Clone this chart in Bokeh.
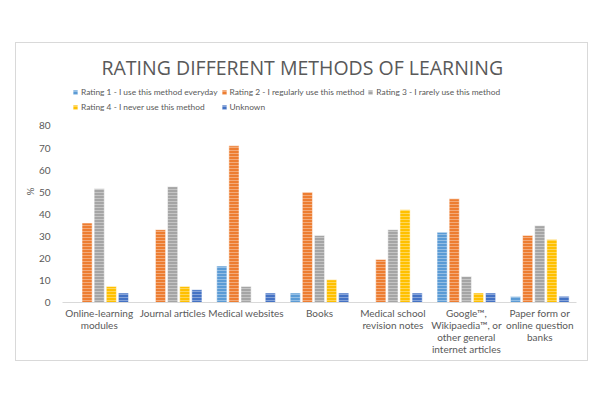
from bokeh.plotting import figure
from bokeh.models import (ColumnDataSource, FactorRange, Range1d, Legend, LegendItem, FixedTicker,
                          CategoricalAxis, CustomJSTickFormatter)
from bokeh.transform import dodge
from bokeh.embed import file_html
from bokeh.resources import INLINE

categories = ["Online-learning modules", "Journal articles", "Medical websites", "Books",
              "Medical school revision notes",
              "Google™, Wikipaedia™, or other general internet articles",
              "Paper form or online question banks"]
category_labels = ["Online-learning\nmodules", "Journal articles", "Medical websites", "Books",
                   "Medical school\nrevision notes",
                   "Google™,\nWikipaedia™, or\nother general\ninternet articles",
                   "Paper form or\nonline question\nbanks"]
rating1 = [0, 0, 16.5, 4.3, 0, 31.8, 2.7]
rating2 = [36, 33, 71, 50, 19.5, 47, 30.4]
rating3 = [51.5, 52.5, 7.3, 30.4, 33, 11.8, 34.8]
rating4 = [7.3, 7.3, 0, 10.3, 42, 4.3, 28.5]
unknown = [4.3, 5.8, 4.3, 4.3, 4.3, 4.3, 2.8]
series_names = ["Rating 1 - I use this method everyday", "Rating 2 - I regularly use this method",
                "Rating 3 - I rarely use this method", "Rating 4 - I never use this method", "Unknown"]
series_keys = ["r1", "r2", "r3", "r4", "unk"]
colors = ["#5B9BD5", "#ED7D31", "#A5A5A5", "#FFC000", "#4472C4"]
y_ticks = [0, 10, 20, 30, 40, 50, 60, 70, 80]

source = ColumnDataSource(dict(cat=categories, r1=rating1, r2=rating2, r3=rating3, r4=rating4, unk=unknown))

TXT = "#595959"

# y range extends above 80 to leave room for the legend inside the plot frame
p = figure(x_range=FactorRange(*categories), y_range=Range1d(0, 100.6),
           width=573, height=319, output_backend="svg", toolbar_location=None,
           min_border_left=46, min_border_right=13, min_border_top=37, min_border_bottom=60)
p.margin = (42, 0, 0, 15)
p.styles = {"border": "1px solid #d9d9d9", "box-sizing": "border-box"}
p.outline_line_color = None
p.xgrid.grid_line_color = None
p.ygrid.grid_line_color = None

pitch = 0.165
width = 0.138
items = []
for i, (key, name, col) in enumerate(zip(series_keys, series_names, colors)):
    r = p.vbar(x=dodge("cat", (i - 2) * pitch, range=p.x_range), top=key, width=width, source=source,
               fill_color=col, line_color="white", line_alpha=0.5, line_width=1,
               hatch_pattern="horizontal_line", hatch_color="white", hatch_alpha=0.35,
               hatch_scale=3, hatch_weight=1)
    items.append(LegendItem(label=name, renderers=[r]))

legend = Legend(items=items, orientation="horizontal", ncols=3,
                glyph_width=6, glyph_height=6, label_height=12, label_standoff=3,
                spacing=3, padding=2, margin=0, border_line_color=None, background_fill_alpha=0,
                label_text_font="Lato", label_text_font_size="8.4px", label_text_color=TXT,
                location=(10, 189))
p.add_layout(legend, "center")

p.title.text = "RATING DIFFERENT METHODS OF LEARNING"
p.title.text_font = "Open Sans"
p.title.text_font_size = "19.5px"
p.title.text_font_style = "normal"
p.title.text_color = TXT
p.title.align = "left"
p.title.offset = 39
p.title.standoff = 0

p.yaxis.ticker = FixedTicker(ticks=y_ticks)
p.yaxis.axis_line_color = None
p.yaxis.major_tick_line_color = None
p.yaxis.minor_tick_line_color = None
p.yaxis.major_tick_out = 0
p.yaxis.major_tick_in = 0
p.yaxis.major_label_standoff = 12
p.yaxis.major_label_text_font = "Lato"
p.yaxis.major_label_text_font_size = "10px"
p.yaxis.major_label_text_color = TXT
p.yaxis.axis_label = "%"
p.yaxis.axis_label_text_font = "Lato"
p.yaxis.axis_label_text_font_size = "10px"
p.yaxis.axis_label_text_font_style = "normal"
p.yaxis.axis_label_text_color = TXT
p.yaxis.axis_label_standoff = 0

# category labels, one axis per text line
label_lines = [lab.split("\n") for lab in category_labels]
n_lines = max(len(l) for l in label_lines)
x_axes = [p.xaxis[0]] + [CategoricalAxis() for _ in range(n_lines - 1)]
for k, ax in enumerate(x_axes):
    if k > 0:
        p.add_layout(ax, "below")
    line_map = {c: (l[k] if k < len(l) else " ") for c, l in zip(categories, label_lines)}
    ax.formatter = CustomJSTickFormatter(args=dict(m=line_map), code="return m[tick] || ' ';")
    ax.axis_line_color = "#d9d9d9" if k == 0 else None
    ax.major_tick_line_color = None
    ax.minor_tick_line_color = None
    ax.major_tick_out = 0
    ax.major_tick_in = 0
    ax.major_label_standoff = 4 if k == 0 else -3
    ax.major_label_text_font = "Lato"
    ax.major_label_text_font_size = "10px"
    ax.major_label_text_color = TXT

open("out.html", "w").write(file_html(p, INLINE))
